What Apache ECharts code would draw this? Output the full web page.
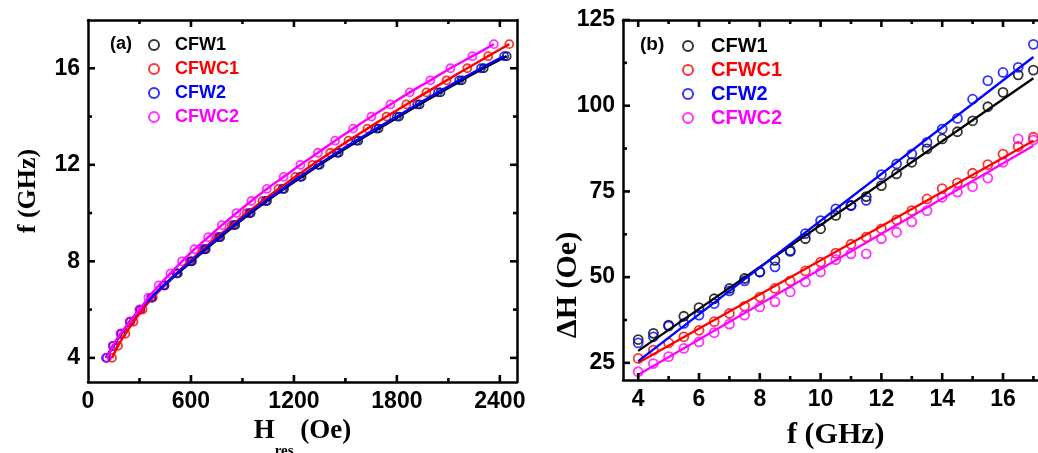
<!DOCTYPE html>
<html><head><meta charset="utf-8">
<script src="https://cdn.jsdelivr.net/npm/echarts@6/dist/echarts.min.js"></script>
<style>html,body{margin:0;padding:0;background:#fff}#c{width:1038px;height:453px}</style>
</head><body><div id="c"></div><script>
const names = ['CFW1','CFWC1','CFW2','CFWC2'];
const colors = ['#000000','#ff0000','#0000ff','#ff00ff'];

// ---- panel (a): f (GHz) vs H_res (Oe)
const fA_CFW  = [4,4.5,5,5.5,6,6.5,7,7.5,8,8.5,9,9.5,10,10.5,11,11.5,12,12.5,13,13.5,14,14.5,15,15.5,16,16.5];
const fA_CFWC = [4,4.5,5,5.5,6,6.5,7,7.5,8,8.5,9,9.5,10,10.5,11,11.5,12,12.5,13,13.5,14,14.5,15,15.5,16,16.5,17];
const hA_CFW1  = [108,148,194,247,305,372,446,523,606,686,770,858,948,1043,1142,1245,1350,1461,1575,1693,1813,1932,2054,2178,2306,2440];
const hA_CFWC1 = [140,175,218,265,318,378,445,515,592,670,752,838,925,1017,1110,1208,1308,1412,1518,1628,1740,1855,1972,2090,2210,2332,2455];
const hA_CFW2  = [105,145,191,243,300,368,441,518,600,680,763,850,940,1035,1133,1235,1340,1450,1563,1680,1800,1918,2039,2163,2290,2425];
const hA_CFWC2 = [110,145,190,245,300,352,412,480,548,620,700,780,865,952,1042,1140,1238,1340,1440,1545,1652,1762,1875,1995,2112,2240,2365];
const xRangeA = [0, 2500];
const yRangeA = [3, 18];
const xTicksA = [0,600,1200,1800,2400];
const xMinorA = [300,900,1500,2100];
const yTicksA = [4,8,12,16];
const yMinorA = [6,10,14];

// ---- panel (b): ΔH (Oe) vs f (GHz)
const fB = [4,4.5,5,5.5,6,6.5,7,7.5,8,8.5,9,9.5,10,10.5,11,11.5,12,12.5,13,13.5,14,14.5,15,15.5,16,16.5,17];
const dB_CFW1  = [31.8,33.6,36.0,38.6,41.1,43.7,46.7,49.6,51.5,54.9,57.5,61.2,64.1,68.0,70.9,73.5,76.7,80.1,83.5,87.4,90.3,92.4,95.6,99.7,103.9,109.0,110.4];
const dB_CFWC1 = [26.3,28.7,30.8,32.6,34.5,37.0,39.4,41.5,44.2,46.7,48.9,51.8,54.4,57.0,59.6,61.7,64.1,66.7,69.4,72.8,75.8,77.5,80.3,82.8,85.9,88.1,90.8];
const dB_CFW2  = [30.8,32.6,35.7,36.5,38.9,42.3,46.0,48.9,51.5,53.0,57.8,62.7,66.5,69.9,70.9,72.4,79.9,83.0,85.9,89.3,93.2,96.3,101.9,107.3,109.7,111.2,117.9];
const dB_CFWC2 = [22.4,24.8,26.8,29.2,31.1,33.8,36.3,38.9,41.3,42.8,45.7,48.6,51.5,55.1,56.8,56.8,61.2,63.1,66.1,69.4,73.3,74.8,76.4,78.9,83.5,90.3,90.0];
const fitFB = [4,17];
const fitB_CFW1  = [28.5,108.0];
const fitB_CFWC1 = [25.0,89.8];
const fitB_CFW2  = [25.5,114.2];
const fitB_CFWC2 = [21.5,88.3];
const xRangeB = [3.5, 17.5];
const yRangeB = [20, 125];
const xTicksB = [4,6,8,10,12,14,16];
const xMinorB = [5,7,9,11,13,15,17];
const yTicksB = [25,50,75,100,125];
const yMinorB = [37.5,62.5,87.5,112.5];

const SANS = 'Liberation Sans, Arial, sans-serif';
const SERIF = 'Liberation Serif, Times New Roman, serif';
const MAJOR = 7, MINOR = 4;

function valAxis(grid, pos, range, labels, extra) {
  return Object.assign({
    type: 'value', gridIndex: grid, position: pos, min: range[0], max: range[1],
    axisLine: { show: true, onZero: false, lineStyle: { color: '#000', width: 2.5 } },
    axisTick: { show: false },
    axisLabel: labels ? { show: true, customValues: labels, margin: 8, color: '#000', fontSize: 23,
      fontWeight: 'bold', fontFamily: SANS, formatter: function (v) { return String(v); } } : { show: false },
    splitLine: { show: false },
    z: 5
  }, extra || {});
}

const xAxes = [
  valAxis(0, 'bottom', xRangeA, xTicksA, {
    name: '{h|H}{s|res}{h| (Oe)}', nameLocation: 'middle', nameGap: 22,
    nameTextStyle: { rich: {
      h: { fontFamily: SERIF, fontWeight: 'bold', fontSize: 27, color: '#000' },
      s: { fontFamily: SERIF, fontWeight: 'bold', fontSize: 15, color: '#000', padding: [40, 0, 0, 0] }
    } }
  }),
  valAxis(0, 'top', xRangeA, null),
  valAxis(1, 'bottom', xRangeB, xTicksB, {
    name: 'f (GHz)', nameLocation: 'middle', nameGap: 40,
    nameTextStyle: { fontFamily: SERIF, fontWeight: 'bold', fontSize: 30, color: '#000' }
  }),
  valAxis(1, 'top', xRangeB, null)
];
const yAxes = [
  valAxis(0, 'left', yRangeA, yTicksA, {
    name: 'f (GHz)', nameLocation: 'middle', nameGap: 47,
    nameTextStyle: { fontFamily: SERIF, fontWeight: 'bold', fontSize: 26, color: '#000', padding: [0, 0, 0, 20] }
  }),
  valAxis(0, 'right', yRangeA, null),
  valAxis(1, 'left', yRangeB, yTicksB, {
    name: '\u0394H (Oe)', nameLocation: 'middle', nameGap: 40, nameMoveOverlap: false,
    nameTextStyle: { fontFamily: SERIF, fontWeight: 'bold', fontSize: 30, color: '#000', padding: [0, 170, 0, 0] }
  }),
  valAxis(1, 'right', yRangeB, null)
];

const hA = [hA_CFW1, hA_CFWC1, hA_CFW2, hA_CFWC2];
const fA = [fA_CFW, fA_CFWC, fA_CFW, fA_CFWC];
const dB = [dB_CFW1, dB_CFWC1, dB_CFW2, dB_CFWC2];
const fitB = [fitB_CFW1, fitB_CFWC1, fitB_CFW2, fitB_CFWC2];

const series = [];
names.forEach(function (n, i) {
  const ptsA = hA[i].map(function (h, j) { return [h, fA[i][j]]; });
  series.push({ type: 'scatter', name: n, xAxisIndex: 0, yAxisIndex: 0, symbol: 'circle', symbolSize: 8,
    itemStyle: { color: 'rgba(255,255,255,0)', borderColor: colors[i], borderWidth: 1.8 }, data: ptsA, z: 2 });
  series.push({ type: 'line', name: n + ' fit', xAxisIndex: 0, yAxisIndex: 0, smooth: 0.4, showSymbol: false,
    lineStyle: { color: colors[i], width: 2.5 }, data: ptsA, z: 3 });
});
names.forEach(function (n, i) {
  const ptsB = dB[i].map(function (d, j) { return [fB[j], d]; });
  series.push({ type: 'scatter', name: n, xAxisIndex: 2, yAxisIndex: 2, symbol: 'circle', symbolSize: 9,
    itemStyle: { color: 'rgba(255,255,255,0)', borderColor: colors[i], borderWidth: 1.8 }, data: ptsB, z: 2 });
  series.push({ type: 'line', name: n + ' fit', xAxisIndex: 2, yAxisIndex: 2, showSymbol: false,
    lineStyle: { color: colors[i], width: 2.3 }, data: fitFB.map(function (f, j) { return [f, fitB[i][j]]; }), z: 3 });
});

function legend(left, top, fs, pad, gap) {
  return {
    orient: 'vertical', left: left, top: top, itemWidth: 10, itemHeight: 10, itemGap: gap,
    selectedMode: false,
    data: names.map(function (n, i) {
      return { name: n, icon: 'circle',
        itemStyle: { color: 'rgba(255,255,255,0)', borderColor: colors[i], borderWidth: 2 },
        textStyle: { color: colors[i], fontFamily: SANS, fontWeight: 'bold', fontSize: fs, padding: [0, 0, 0, pad] } };
    })
  };
}

const labelEls = [
  { type: 'text', left: 110, top: 35, style: { text: '(a)', fill: '#000', font: 'bold 18px ' + SANS } },
  { type: 'text', left: 640, top: 35, style: { text: '(b)', fill: '#000', font: 'bold 19px ' + SANS } }
];

const chart = echarts.init(document.getElementById('c'), null, { renderer: 'canvas' });
chart.setOption({
  animation: false,
  backgroundColor: '#fff',
  grid: [
    { left: 88, top: 20, width: 429, height: 362, outerBoundsMode: 'none', containLabel: false },
    { left: 623, top: 20, width: 425.6, height: 360, outerBoundsMode: 'none', containLabel: false }
  ],
  xAxis: xAxes,
  yAxis: yAxes,
  legend: [legend(143, 31, 18, 11, 6), legend(677, 31, 20, 13, 4)],
  graphic: { elements: labelEls },
  series: series
});

// inward tick marks on all four sides, positioned through each axis's own scale
const tickEls = [];
function toPx(which, idx, v) {
  const f = {}; f[which] = idx;
  const r = chart.convertToPixel(f, v);
  return Array.isArray(r) ? r[which === 'xAxisIndex' ? 0 : 1] : r;
}
function seg(x1, y1, x2, y2) {
  if ([x1, y1, x2, y2].some(function (q) { return typeof q !== 'number' || isNaN(q); })) return;
  tickEls.push({ type: 'line', silent: true, z: 100,
    shape: { x1: x1, y1: y1, x2: x2, y2: y2 },
    style: { stroke: '#000', lineWidth: 2.6 } });
}
function addTicks(xi, yi, xr, yr, xMaj, xMin, yMaj, yMin) {
  const yBot = toPx('yAxisIndex', yi, yr[0]), yTop = toPx('yAxisIndex', yi, yr[1]);
  const xLeft = toPx('xAxisIndex', xi, xr[0]), xRight = toPx('xAxisIndex', xi, xr[1]);
  function xt(v, len) { const x = toPx('xAxisIndex', xi, v); seg(x, yBot, x, yBot - len); seg(x, yTop, x, yTop + len); }
  function yt(v, len) { const y = toPx('yAxisIndex', yi, v); seg(xLeft, y, xLeft + len, y); seg(xRight, y, xRight - len, y); }
  xMaj.forEach(function (v) { xt(v, MAJOR); });
  xMin.forEach(function (v) { xt(v, MINOR); });
  yMaj.forEach(function (v) { yt(v, MAJOR); });
  yMin.forEach(function (v) { yt(v, MINOR); });
}
try {
  addTicks(0, 0, xRangeA, yRangeA, xTicksA.slice(1), xMinorA, yTicksA, yMinorA);
  addTicks(2, 2, xRangeB, yRangeB, xTicksB, xMinorB, yTicksB, yMinorB);
} catch (e) { /* keep chart */ }
chart.setOption({ graphic: { elements: labelEls.concat(tickEls) } });
</script></body></html>
